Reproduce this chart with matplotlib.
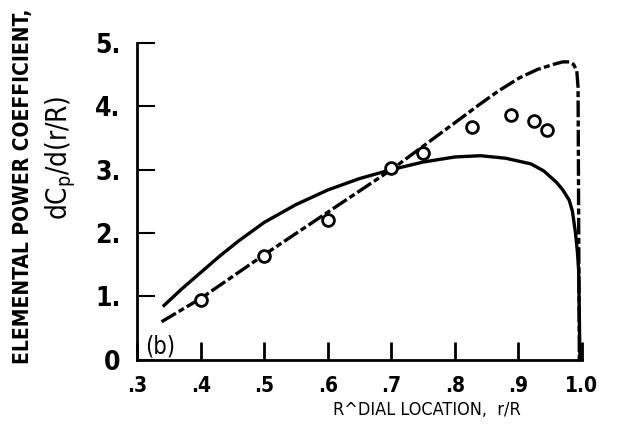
import matplotlib.pyplot as plt

# measured points (circles)
r_meas = [0.40, 0.50, 0.60, 0.70, 0.75, 0.827, 0.888, 0.924, 0.945]
cp_meas = [0.95, 1.63, 2.20, 3.02, 3.26, 3.67, 3.86, 3.77, 3.62]

# solid curve
r_solid = [0.34, 0.37, 0.40, 0.43, 0.46, 0.50, 0.55, 0.60, 0.65, 0.70, 0.75, 0.80, 0.84,
           0.88, 0.92, 0.94, 0.96, 0.97, 0.98, 0.985, 0.99, 0.993, 0.995, 0.997]
cp_solid = [0.84, 1.12, 1.38, 1.64, 1.88, 2.17, 2.45, 2.68, 2.86, 3.00, 3.12, 3.20, 3.22,
            3.18, 3.09, 2.98, 2.80, 2.68, 2.52, 2.35, 2.00, 1.70, 1.40, 0.0]

# dashed curve
r_dash = [0.338, 0.40, 0.50, 0.60, 0.70, 0.75, 0.80, 0.839, 0.87, 0.902, 0.93, 0.955,
          0.97, 0.98, 0.987, 0.992, 0.994, 0.996]
cp_dash = [0.60, 0.97, 1.66, 2.33, 3.00, 3.37, 3.74, 4.03, 4.25, 4.45, 4.58, 4.66,
           4.70, 4.70, 4.66, 4.56, 4.30, 0.0]

xticks = [0.3, 0.4, 0.5, 0.6, 0.7, 0.8, 0.9, 1.0]
xtick_labels = ['.3', '.4', '.5', '.6', '.7', '.8', '.9', '1.0']
yticks = [0, 1, 2, 3, 4, 5]
ytick_labels = ['0', '1.', '2.', '3.', '4.', '5.']

plt.rcParams['font.family'] = ['DejaVu Sans']
plt.rcParams['font.stretch'] = 'condensed'
plt.rcParams['font.weight'] = 'bold'

fig = plt.figure(figsize=(6.19, 4.33), dpi=100)
ax = fig.add_axes([0.222, 0.169, 0.718, 0.732])

ax.plot(r_solid, cp_solid, color='black', lw=2.4, solid_capstyle='butt')
ax.plot(r_dash, cp_dash, color='black', lw=2.4, dashes=(5, 1, 1.8, 1))
ax.plot(r_meas, cp_meas, 'o', ms=8.5, mfc='white', mec='black', mew=2)

ax.set_xlim(0.3, 1.0)
ax.set_ylim(0, 5)
ax.spines['top'].set_visible(False)
ax.spines['right'].set_visible(False)
ax.spines['left'].set_linewidth(2)
ax.spines['bottom'].set_linewidth(2)

ax.set_xticks(xticks)
ax.set_xticklabels(xtick_labels, fontsize=15)
ax.set_yticks(yticks)
ax.set_yticklabels(ytick_labels, fontsize=19)
ax.tick_params(axis='x', direction='in', length=13, width=2, pad=12)
ax.tick_params(axis='y', direction='in', length=13, width=1.5, pad=12)

ax.text(0.312, 0.1, '(b)', fontsize=17, fontweight='normal')

ax.set_xlabel('R^DIAL LOCATION,  r/R', fontsize=13)
ax.xaxis.set_label_coords(0.651, -0.13)
fig.text(0.037, 0.57, 'ELEMENTAL POWER COEFFICIENT,', rotation=90, fontsize=15,
         ha='center', va='center')
fig.text(0.098, 0.635, r'dC$_\mathregular{p}$/d(r/R)', rotation=90, fontsize=20,
         ha='center', va='center', fontweight='normal')

plt.savefig('out.png', dpi=100)
plt.close()
